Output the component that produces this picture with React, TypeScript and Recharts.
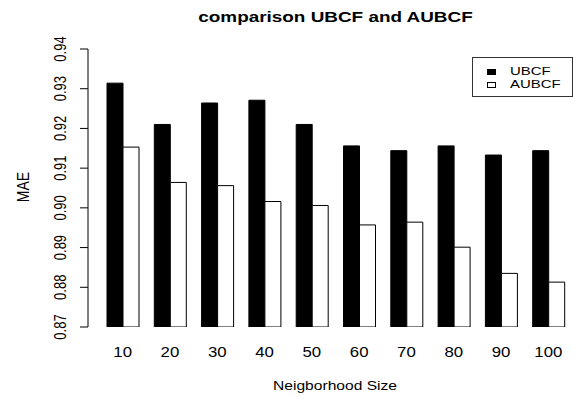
import React from 'react';
import { BarChart, Bar, XAxis, YAxis, Legend, Label } from 'recharts';

const categories = ['10', '20', '30', '40', '50', '60', '70', '80', '90', '100'];
const ubcfValues = [0.9314, 0.921, 0.9264, 0.9271, 0.921, 0.9156, 0.9144, 0.9156, 0.9133, 0.9144];
const aubcfValues = [0.9153, 0.9064, 0.9056, 0.9016, 0.9006, 0.8957, 0.8964, 0.8901, 0.8835, 0.8813];
const yTicks = [0.87, 0.88, 0.89, 0.9, 0.91, 0.92, 0.93, 0.94];
const seriesNames = ['UBCF', 'AUBCF'];

const data = categories.map((c, i) => ({ size: c, UBCF: ubcfValues[i], AUBCF: aubcfValues[i] }));

const FONT = '"Liberation Sans", Arial, Helvetica, sans-serif';

const YTick = (props: any) => {
  const { x, y, payload } = props;
  return (
    <text
      transform={`translate(${x - 12},${y}) scale(1.2,1) rotate(-90)`}
      textAnchor="middle"
      fontSize={13}
      fontFamily={FONT}
      fill="#000"
    >
      {Number(payload.value).toFixed(2)}
    </text>
  );
};

const XTick = (props: any) => {
  const { x, y, payload } = props;
  return (
    <text
      transform={`translate(${x},${y + 30}) scale(1.2,1)`}
      textAnchor="middle"
      fontSize={14}
      fontFamily={FONT}
      fill="#000"
    >
      {payload.value}
    </text>
  );
};

const renderLegend = () => (
  <div
    style={{
      width: 101,
      height: 40,
      boxSizing: 'border-box',
      border: '1px solid #333',
      background: '#fff',
      position: 'relative',
      fontFamily: FONT,
    }}
  >
    {seriesNames.map((name, i) => (
      <div key={name} style={{ position: 'absolute', left: 0, top: 7 + i * 13, height: 13, width: 99 }}>
        <div
          style={{
            position: 'absolute',
            left: 14,
            top: 4,
            width: 9,
            height: 6,
            boxSizing: 'border-box',
            border: '1px solid #000',
            background: i === 0 ? '#000' : '#fff',
          }}
        />
        <div
          style={{
            position: 'absolute',
            left: 37,
            top: 0,
            fontSize: 11.5,
            lineHeight: '13px',
            height: 13,
            color: '#000',
            whiteSpace: 'nowrap',
            transform: 'scaleX(1.3)',
            transformOrigin: 'left center',
          }}
        >
          {name}
        </div>
      </div>
    ))}
  </div>
);

export default function App() {
  return (
    <div style={{ position: 'absolute', left: 0, top: 0, width: 573, height: 399, background: '#fff', overflow: 'hidden' }}>
      <div
        style={{
          position: 'absolute',
          left: 148,
          top: 9,
          width: 375,
          textAlign: 'center',
          fontFamily: FONT,
          fontWeight: 'bold',
          fontSize: 15,
          lineHeight: '15px',
          color: '#000',
          zIndex: 2,
          transform: 'scaleX(1.26)',
          transformOrigin: 'center center',
        }}
      >
        comparison UBCF and AUBCF
      </div>
      <BarChart
        width={573}
        height={399}
        data={data}
        margin={{ top: 49, right: 0, bottom: 42, left: 0 }}
        barGap={0}
      >
        <XAxis
          dataKey="size"
          axisLine={false}
          tickLine={false}
          tickSize={0}
          tickMargin={0}
          height={30}
          padding={{ left: 11, right: 1 }}
          tick={<XTick />}
          interval={0}
        >
          <Label
            content={() => (
              <text
                transform="translate(335,390) scale(1.2,1)"
                textAnchor="middle"
                fontSize={13}
                fontFamily={FONT}
                fill="#000"
              >
                Neigborhood Size
              </text>
            )}
          />
        </XAxis>
        <YAxis
          width={88}
          domain={[0.87, 0.94]}
          ticks={yTicks}
          allowDataOverflow
          axisLine={{ stroke: '#000', strokeWidth: 1 }}
          tickLine={{ stroke: '#000', strokeWidth: 1 }}
          tickSize={8}
          tickMargin={2}
          tick={<YTick />}
          interval={0}
        >
          <Label
            content={() => (
              <text
                transform="translate(28.5,187) scale(1.15,1) rotate(-90)"
                textAnchor="middle"
                fontSize={14}
                fontFamily={FONT}
                fill="#000"
              >
                MAE
              </text>
            )}
          />
        </YAxis>
        <Legend
          layout="vertical"
          align="center"
          verticalAlign="middle"
          content={renderLegend}
          wrapperStyle={{ position: 'absolute', left: 472, top: 57, width: 101, height: 40 }}
        />
        <Bar dataKey="UBCF" fill="#000" stroke="#000" strokeWidth={1} barSize={16} isAnimationActive={false} />
        <Bar dataKey="AUBCF" fill="#fff" stroke="#000" strokeWidth={1} barSize={16} isAnimationActive={false} />
      </BarChart>
    </div>
  );
}
